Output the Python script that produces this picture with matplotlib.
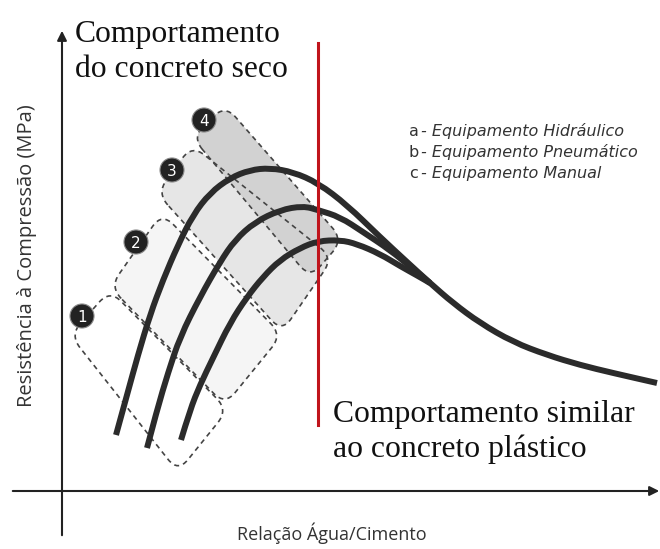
import numpy as np
import matplotlib.pyplot as plt
from matplotlib.path import Path
from matplotlib.patches import PathPatch, Circle, FancyArrowPatch

# curvas esquemáticas (coordenadas, em pixels)
curva_a_x = [116, 127, 138, 150, 163, 178, 193, 210, 230, 250, 270, 293, 318, 347, 380, 407,
             430, 453, 480, 513, 547, 580, 613, 657]
curva_a_y = [435, 395, 355, 315, 280, 245, 215, 193, 178, 170, 168, 172, 183, 205, 237, 262,
             283, 303, 323, 342, 355, 365, 373, 383]
curva_b_x = [147, 157, 168, 180, 200, 220, 235, 255, 280, 303, 318, 340, 363, 390, 412, 430]
curva_b_y = [448, 410, 373, 337, 297, 262, 240, 222, 210, 206, 210, 217, 232, 250, 268, 283]
curva_c_x = [181, 190, 200, 213, 230, 247, 263, 280, 300, 318, 340, 357, 380, 400, 418, 430]
curva_c_y = [440, 410, 385, 358, 323, 297, 277, 260, 248, 241, 240, 244, 254, 266, 276, 283]

# regiões 1-4 (cantos: esquerda, topo, direita, base)
regioes = [
    [(70, 335), (110, 290), (228, 410), (178, 472)],
    [(110, 287), (162, 213), (282, 335), (225, 405)],
    [(157, 193), (192, 145), (333, 258), (282, 332)],
    [(192, 137), (225, 105), (343, 240), (310, 278)],
]
numeros = ['1', '2', '3', '4']
centros_num = [(82, 316), (136, 242), (172, 170), (204, 120)]

legenda_letras = ['a', 'b', 'c']
legenda_nomes = ['Equipamento Hidráulico', 'Equipamento Pneumático', 'Equipamento Manual']


def caminho_suave(xs, ys):
    # curva suave passando pelos pontos médios (bezier quadrática)
    p = np.column_stack([xs, ys]).astype(float)
    verts = [p[0]]
    codes = [Path.MOVETO]
    for i in range(1, len(p) - 1):
        m = (p[i] + p[i + 1]) / 2
        verts += [p[i], m]
        codes += [Path.CURVE3, Path.CURVE3]
    verts.append(p[-1])
    codes.append(Path.LINETO)
    return Path(verts, codes)


def poligono_arredondado(pts, r):
    pts = np.asarray(pts, float)
    n = len(pts)
    verts, codes = [], []
    for i in range(n):
        p0, p1, p2 = pts[i - 1], pts[i], pts[(i + 1) % n]
        d1 = (p0 - p1) / np.linalg.norm(p0 - p1)
        d2 = (p2 - p1) / np.linalg.norm(p2 - p1)
        a = p1 + d1 * r
        b = p1 + d2 * r
        verts.append(a)
        codes.append(Path.MOVETO if i == 0 else Path.LINETO)
        verts += [p1, b]
        codes += [Path.CURVE3, Path.CURVE3]
    verts.append(verts[0])
    codes.append(Path.CLOSEPOLY)
    return Path(verts, codes)


fig = plt.figure(figsize=(6.6, 5.49), dpi=100)
ax = fig.add_axes([0, 0, 1, 1])
ax.set_xlim(0, 660)
ax.set_ylim(549, 0)
ax.axis('off')

# regiões tracejadas
cores = ['white', '#f5f5f5', '#e6e6e6', '#d2d2d2']
for reg, cor in zip(regioes, cores):
    ax.add_patch(PathPatch(poligono_arredondado(reg, 16), facecolor=cor, edgecolor='none', zorder=1))
for reg in regioes:
    ax.add_patch(PathPatch(poligono_arredondado(reg, 16), facecolor='none', edgecolor='#444444',
                           lw=1.2, linestyle=(0, (3, 2.5)), zorder=2))

# eixos com setas
ax.add_patch(FancyArrowPatch((62, 538), (62, 28), arrowstyle='-|>', mutation_scale=14,
                             color='#222222', lw=1.5, zorder=3))
ax.add_patch(FancyArrowPatch((10, 491), (662, 491), arrowstyle='-|>', mutation_scale=14,
                             color='#222222', lw=1.5, zorder=3))

# curvas
for xs, ys in [(curva_a_x, curva_a_y), (curva_b_x, curva_b_y), (curva_c_x, curva_c_y)]:
    ax.add_patch(PathPatch(caminho_suave(xs, ys), facecolor='none', edgecolor='#2b2b2b',
                           lw=4.3, capstyle='butt', zorder=4))

# linha vermelha
ax.plot([318, 318], [43, 425], color='#c0141c', lw=2.2, zorder=5)

# círculos numerados
for num, (cx, cy) in zip(numeros, centros_num):
    ax.add_patch(Circle((cx, cy), 12, facecolor='#222222', edgecolor='#888888', lw=0.8, zorder=6))
    ax.text(cx, cy + 1, num, color='white', fontsize=11, ha='center', va='center',
            family='DejaVu Sans', zorder=7)

# textos
serif = 'Liberation Serif'
ax.text(75, 42, 'Comportamento', family=serif, fontsize=22.8, va='baseline', color='#111111')
ax.text(75, 77, 'do concreto seco', family=serif, fontsize=22.8, va='baseline', color='#111111')
ax.text(333, 422, 'Comportamento similar', family=serif, fontsize=22.8, va='baseline', color='#111111')
ax.text(333, 457, 'ao concreto plástico', family=serif, fontsize=22.8, va='baseline', color='#111111')

for i, (letra, nome) in enumerate(zip(legenda_letras, legenda_nomes)):
    y = 136 + i * 21
    ax.text(409, y, letra, fontsize=11.5, va='baseline', color='#333333', family='DejaVu Sans')
    ax.text(421, y, '- ' + nome, fontsize=11.5, va='baseline', color='#333333',
            family='DejaVu Sans', style='italic')

ax.text(27, 256, 'Resistência à Compressão (MPa)', rotation=90, fontsize=14.5,
        ha='center', va='center', color='#333333', family='Open Sans')
ax.text(332, 533, 'Relação Água/Cimento', fontsize=13, ha='center', va='center',
        color='#333333', family='Open Sans')

plt.savefig('out.png', dpi=100)
